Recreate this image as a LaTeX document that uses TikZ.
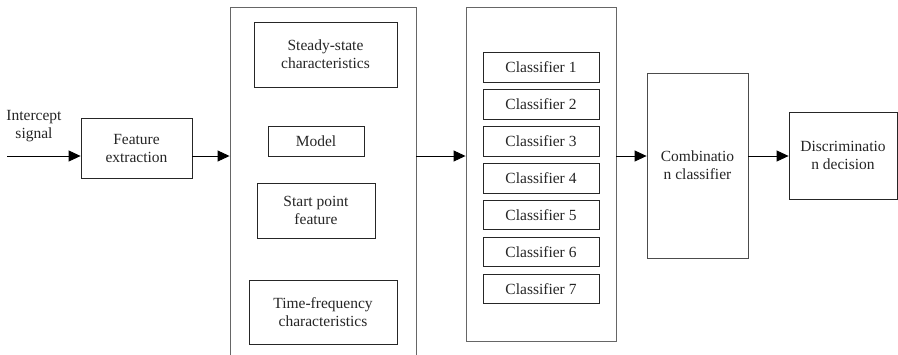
\documentclass[tikz,border=0pt]{standalone}
\usepackage{fontspec}
\setmainfont{Liberation Serif}
\usetikzlibrary{arrows.meta}
\begin{document}
\begin{tikzpicture}[x=1pt,y=-1pt,
  box/.style={draw=black!85, line width=0.8pt, inner sep=0pt, align=center,
    font=\fontsize{15.5}{18}\selectfont, text=black!85},
  outer/.style={draw=black!60, line width=0.9pt, inner sep=0pt},
  arr/.style={draw=black, line width=0.9pt, -{Triangle[length=12pt,width=11pt]}},
  lbl/.style={inner sep=0pt, align=center, font=\fontsize{15.5}{18}\selectfont, text=black!85}]
\clip (0,0) rectangle (898,354);
\fill[white] (0,0) rectangle (898,354);
% input
\node[lbl] (insig) at (34,126) {Intercept\\signal};
\coordinate (start) at (7,156);
\node[box, minimum width=111pt, minimum height=60pt] (fe) at (136.5,148) {Feature\\extraction};
% big box 1
\node[outer, minimum width=186pt, minimum height=380pt] (big1) at (323,197) {};
\node[box, minimum width=143pt, minimum height=65pt] (ss) at (325.5,54.5) {Steady-state\\characteristics};
\node[box, minimum width=96pt, minimum height=30pt] (model) at (316,141) {Model};
\node[box, minimum width=118pt, minimum height=55pt] (spf) at (316,210.5) {Start point\\feature};
\node[box, minimum width=148pt, minimum height=64pt] (tf) at (323,312) {Time-frequency\\characteristics};
% big box 2
\node[outer, minimum width=150pt, minimum height=334pt] (big2) at (541,174) {};
\foreach \i in {1,...,7} {
  \node[box, minimum width=116pt, minimum height=29.5pt] (c\i) at (541,{67.5+36.9*(\i-1)}) {Classifier \i};
}
% combination
\node[box, draw=black!70, minimum width=101pt, minimum height=185pt] (comb) at (697.5,165.5) {Combinatio\\n classifier};
\node[box, minimum width=108pt, minimum height=87pt] (disc) at (843,155.5) {Discriminatio\\n decision};
% arrows
\draw[arr] (start) -- (start -| fe.west);
\coordinate (a1) at (fe.east |- start);
\draw[arr] (a1) -- (a1 -| big1.west);
\coordinate (a2) at (big1.east |- start);
\draw[arr] (a2) -- (a2 -| big2.west);
\coordinate (a3) at (big2.east |- start);
\draw[arr] (a3) -- (a3 -| comb.west);
\coordinate (a4) at (comb.east |- start);
\draw[arr] (a4) -- (a4 -| disc.west);
\end{tikzpicture}
\end{document}
